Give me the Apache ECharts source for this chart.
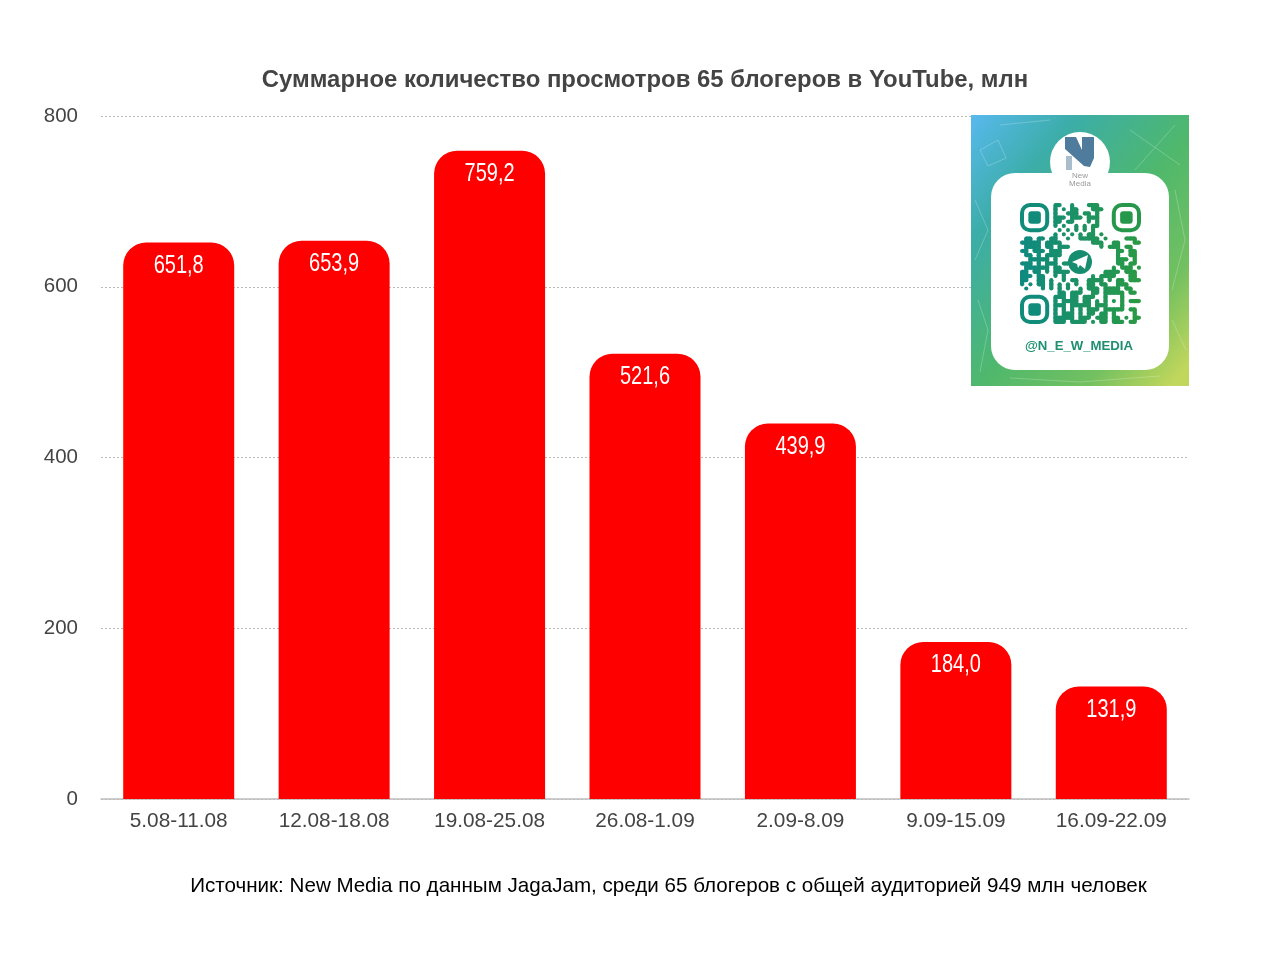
<!DOCTYPE html>
<html><head><meta charset="utf-8">
<style>html,body{margin:0;padding:0;background:#fff}#c{width:1280px;height:956px}</style>
<script src="https://cdn.jsdelivr.net/npm/echarts@6/dist/echarts.min.js"></script>
</head><body><div id="c"></div>
<script>
const categories = ['5.08-11.08','12.08-18.08','19.08-25.08','26.08-1.09','2.09-8.09','9.09-15.09','16.09-22.09'];
const views = [651.8,653.9,759.2,521.6,439.9,184.0,131.9];
const yTicks = {min:0,max:800,interval:200};
const titleText = 'Суммарное количество просмотров 65 блогеров в YouTube, млн';
const sourceText = 'Источник: New Media по данным JagaJam, среди 65 блогеров с общей аудиторией 949 млн человек';
const qr = [
'........##..#...###..........',
'........#.#.##...###.........',
'........#..###.##.#..........',
'........###.###.###..........',
'........##.##...#.#..........',
'........#.#..#.#.##..........',
'.........#.#.#.#.#...........',
'........#.#.#.#.##.#.........',
'.##.##.##..#..#####.#....###.',
'#####.####.......###..##...##',
'.####.##.###.......#.###.##..',
'##.###.###.............##.##.',
'.##.#.####.............#..##.',
'..#####.#..............###.#.',
'###.#.###.##...........##.##.',
'.######.##............#.###.#',
'##.##.#.####........####.###.',
'###.##..#.#......#.####...##.',
'##..##.#..#.##..####.#.##.###',
'#.#.##.#.#.#.#..##.##..###...',
'.#...#.#.#.#..#.###.####.##..',
'.........##.###..##.#####.##.',
'........###.##.###..#...#....',
'........#.####.##.#.#.#.#.###',
'........###.#####.###...#....',
'........#.#.#.#.###.#####.##.',
'........#.###.#.##.##.#....#.',
'........#####.###.###.##.#.##',
'........###.####.#.##.###.##.'
];
const QX = 1020, QY = 203, M = 121/29;
function moduleColor(col){const t=col/28;const a=[15,138,128],b=[42,154,69];
  return 'rgb('+a.map((v,i)=>Math.round(v+(b[i]-v)*t)).join(',')+')';}
const gfx = [];
gfx.push({type:'rect',z:10,shape:{x:971,y:115,width:218,height:271},style:{fill:new echarts.graphic.LinearGradient(0,0,1.15,0.77,[{offset:0,color:'#58b9ee'},{offset:0.25,color:'#3cada8'},{offset:0.55,color:'#4fb86c'},{offset:0.8,color:'#72c060'},{offset:1,color:'#c0d65c'}])}});
// faint doodles of the card background
const doodle = {stroke:'rgba(255,255,255,0.22)',lineWidth:1,fill:'none'};
[[[980,150],[998,140],[1006,158],[988,166],[980,150]],[[1130,130],[1180,165]],[[1175,125],[1135,170]],[[975,200],[988,230],[975,260]],[[1175,190],[1185,240],[1172,290]],[[978,300],[988,330],[980,372]],[[1010,378],[1080,382],[1160,376]],[[1172,320],[1186,350]],[[1000,125],[1050,120]]].forEach(p=>{
  gfx.push({type:'polyline',z:10,shape:{points:p},style:doodle});
});
gfx.push({type:'circle',z:11,shape:{cx:1080,cy:162,r:30},style:{fill:'#fff'}});
gfx.push({type:'rect',z:11,shape:{x:991,y:173,width:178,height:197,r:24},style:{fill:'#fff'}});
gfx.push({type:'polygon',z:12,shape:{points:[[1065,137],[1076,137],[1082,150],[1082,137],[1094,137],[1094,158],[1090,167],[1084,166],[1065,149]]},style:{fill:'#4f7c9c'}});
gfx.push({type:'rect',z:12,shape:{x:1066,y:156,width:6,height:14},style:{fill:'#a9bdca'}});
gfx.push({type:'text',z:12,style:{x:1080,y:176,text:'New',font:'8px "Liberation Sans"',fill:'#999',align:'center',verticalAlign:'middle'}});
gfx.push({type:'text',z:12,style:{x:1080,y:184,text:'Media',font:'8px "Liberation Sans"',fill:'#999',align:'center',verticalAlign:'middle'}});
const on=(r,c)=>qr[r]&&qr[r][c]==='#';
qr.forEach((row,r)=>{[...row].forEach((ch,c)=>{
  if(ch!=='#') return;
  const fill=moduleColor(c),x=QX+c*M,y=QY+r*M;
  gfx.push({type:'circle',z:12,shape:{cx:x+M/2,cy:y+M/2,r:M/2},style:{fill}});
  if(on(r,c+1)) gfx.push({type:'rect',z:12,shape:{x:x+M/2,y:y,width:M,height:M},style:{fill}});
  if(on(r+1,c)) gfx.push({type:'rect',z:12,shape:{x:x,y:y+M/2,width:M,height:M},style:{fill}});
});});
[[0,0],[22,0],[0,22]].forEach(([c,r])=>{
  const col=moduleColor(c+3);
  gfx.push({type:'rect',z:12,shape:{x:QX+c*M+2,y:QY+r*M+2,width:7*M-4,height:7*M-4,r:8},style:{fill:'none',stroke:col,lineWidth:4}});
  gfx.push({type:'rect',z:12,shape:{x:QX+(c+2)*M,y:QY+(r+2)*M,width:3*M,height:3*M,r:3},style:{fill:col}});
});
gfx.push({type:'circle',z:14,shape:{cx:1080,cy:262,r:12},style:{fill:'#178d70'}});
gfx.push({type:'polygon',z:15,shape:{points:[[1072,262],[1088,255],[1085,269],[1080,265],[1078,268],[1077,264]]},style:{fill:'#fff'}});
gfx.push({type:'text',z:12,style:{x:1079,y:346,text:'@N_E_W_MEDIA',font:'bold 13.2px "Liberation Sans"',fill:'#1f8f72',align:'center',verticalAlign:'middle'}});

const chart = echarts.init(document.getElementById('c'),null,{renderer:'canvas'});
chart.setOption({
  animation:false,
  backgroundColor:'#fff',
  title:[
    {text:titleText,left:640,top:63,textAlign:'center',textStyle:{fontFamily:'Liberation Sans',fontWeight:'bold',fontSize:23.9,color:'#444'}},
    {text:sourceText,left:663.5,top:871,textAlign:'center',textStyle:{fontFamily:'Liberation Sans',fontWeight:'normal',fontSize:20.6,color:'#000'}}
  ],
  grid:{left:101,right:91,top:116,bottom:157},
  xAxis:{type:'category',data:categories,axisTick:{show:false},axisLine:{lineStyle:{color:'#bdbdbd',width:1.5}},
    axisLabel:{interval:0,color:'#444',fontFamily:'Liberation Sans',fontSize:20.8,margin:12}},
  yAxis:{type:'value',min:yTicks.min,max:yTicks.max,interval:yTicks.interval,axisLine:{show:false},axisTick:{show:false},
    axisLabel:{color:'#444',fontFamily:'Liberation Sans',fontSize:20.5,margin:23,padding:[3,0,0,0]},
    splitLine:{lineStyle:{color:'#bbb',type:[2,2],width:1}}},
  series:[
    {type:'bar',data:views,barWidth:111,itemStyle:{color:'#ff0000',borderRadius:[23,23,0,0]}},
    {type:'custom',silent:true,z:5,clip:false,encode:{x:0,y:1},
     data:views.map((v,i)=>[categories[i],v]),
     renderItem:(params,api)=>{
       const v=api.value(1),pos=api.coord([api.value(0),v]);
       return {type:'text',x:pos[0],y:pos[1]+23.5,scaleX:0.8,
         style:{text:v.toFixed(1).replace('.',','),font:'25px "Liberation Sans"',fill:'#fff',align:'center',verticalAlign:'middle'}};
     }}
  ],
  graphic:{elements:gfx}
});
</script></body></html>
